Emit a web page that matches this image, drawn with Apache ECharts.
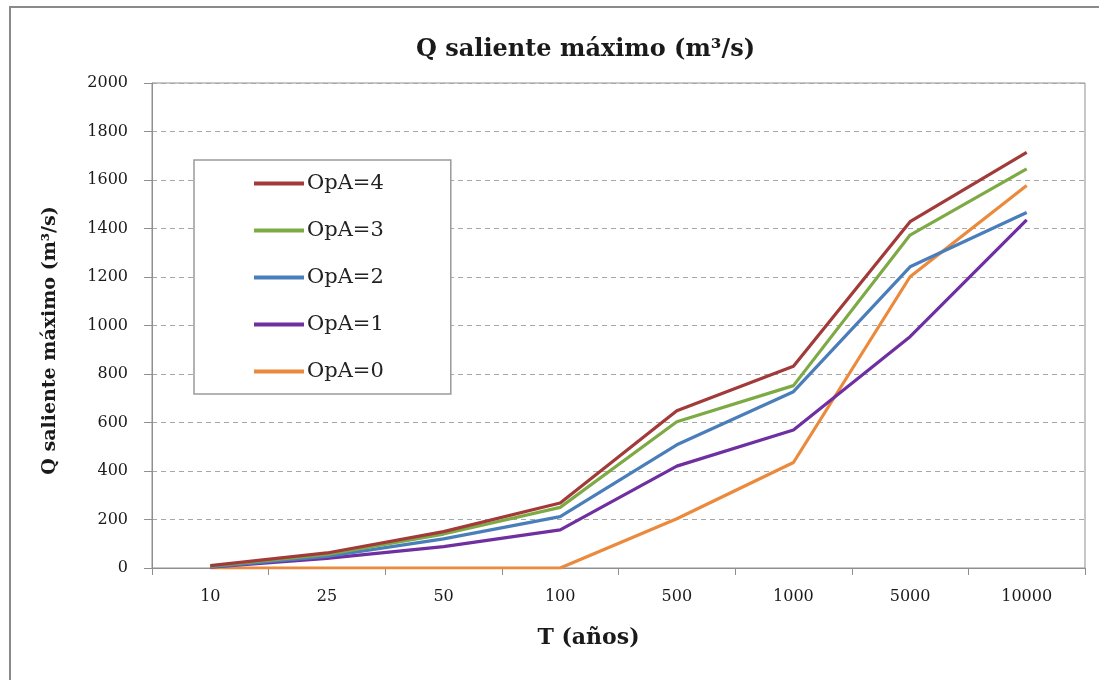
<!DOCTYPE html>
<html>
<head>
<meta charset="utf-8">
<script src="https://cdn.jsdelivr.net/npm/echarts@6/dist/echarts.min.js"></script>
<style>
html,body{margin:0;padding:0;background:#fff;}
#chart{width:1099px;height:680px;}
</style>
</head>
<body>
<div id="chart"></div>
<script>
const categories = ['10','25','50','100','500','1000','5000','10000'];
const seriesNames = ['OpA=4','OpA=3','OpA=2','OpA=1','OpA=0'];
const opa4 = [10, 62, 150, 268, 648, 832, 1428, 1714];
const opa3 = [8, 56, 140, 250, 603, 752, 1373, 1646];
const opa2 = [5, 48, 120, 212, 508, 727, 1242, 1466];
const opa1 = [3, 40, 88, 157, 420, 569, 954, 1436];
const opa0 = [0, 0, 0, 0, 203, 435, 1201, 1577];
const yTicks = [0, 200, 400, 600, 800, 1000, 1200, 1400, 1600, 1800, 2000];

const colors = ['#A33A3A', '#7EAA45', '#4A7EBB', '#6F2FA0', '#EB8A3C'];
const values = [opa4, opa3, opa2, opa1, opa0];

const chart = echarts.init(document.getElementById('chart'));
const serifFont = '"DejaVu Serif", serif';

chart.setOption({
  animation: false,
  backgroundColor: '#fff',
  title: {
    text: 'Q saliente máximo (m³/s)',
    left: 411,
    top: 33,
    textStyle: { fontFamily: serifFont, fontWeight: 'bold', fontSize: 24, color: '#1a1a1a' }
  },
  graphic: [{
    type: 'rect',
    shape: { x: 10, y: 7, width: 1200, height: 800 },
    style: { fill: 'none', stroke: '#8a8a8a', lineWidth: 2 },
    silent: true
  }],
  legend: {
    orient: 'vertical',
    left: 194,
    top: 160,
    padding: [13, 67, 12, 60],
    itemGap: 26,
    itemWidth: 50,
    itemHeight: 4,
    backgroundColor: '#fff',
    borderColor: '#9a9a9a',
    borderWidth: 1.5,
    data: seriesNames.map((n) => ({ name: n, icon: 'rect' })),
    textStyle: { fontFamily: serifFont, fontSize: 21, color: '#222', padding: [0, 0, 0, -2] }
  },
  grid: {
    left: 152, right: 14, top: 83, bottom: 112,
    show: true, borderColor: '#8f8f8f', borderWidth: 1
  },
  xAxis: {
    type: 'category',
    data: categories,
    boundaryGap: true,
    name: 'T (años)',
    nameLocation: 'middle',
    nameGap: 59,
    nameTextStyle: { fontFamily: serifFont, fontWeight: 'bold', fontSize: 22, color: '#1a1a1a', padding: [0, 60, 0, 0] },
    axisLine: { lineStyle: { color: '#8f8f8f', width: 1 } },
    axisTick: { show: true, alignWithLabel: false, length: 7, lineStyle: { color: '#8f8f8f' } },
    axisLabel: { fontFamily: serifFont, fontSize: 16, color: '#1a1a1a', margin: 21 }
  },
  yAxis: {
    type: 'value',
    min: 0, max: 2000, interval: 200,
    name: 'Q saliente máximo (m³/s)',
    nameLocation: 'middle',
    nameGap: 92,
    nameTextStyle: { fontFamily: serifFont, fontWeight: 'bold', fontSize: 19, color: '#1a1a1a', padding: [0, 30, 0, 0] },
    axisLine: { show: true, lineStyle: { color: '#8f8f8f', width: 1 } },
    axisTick: { show: true, length: 8, lineStyle: { color: '#8f8f8f' } },
    axisLabel: { fontFamily: serifFont, fontSize: 16, color: '#1a1a1a', margin: 24,
      formatter: v => yTicks.includes(v) ? String(v) : '' },
    splitLine: { show: true, lineStyle: { color: '#a8a8a8', type: [5, 4], width: 1 } }
  },
  series: values.map((d, i) => ({
    name: seriesNames[i],
    type: 'line',
    data: d,
    symbol: 'none',
    z: 10 - i,
    lineStyle: { width: 3.2, color: colors[i] },
    itemStyle: { color: colors[i] }
  }))
});
</script>
</body>
</html>
